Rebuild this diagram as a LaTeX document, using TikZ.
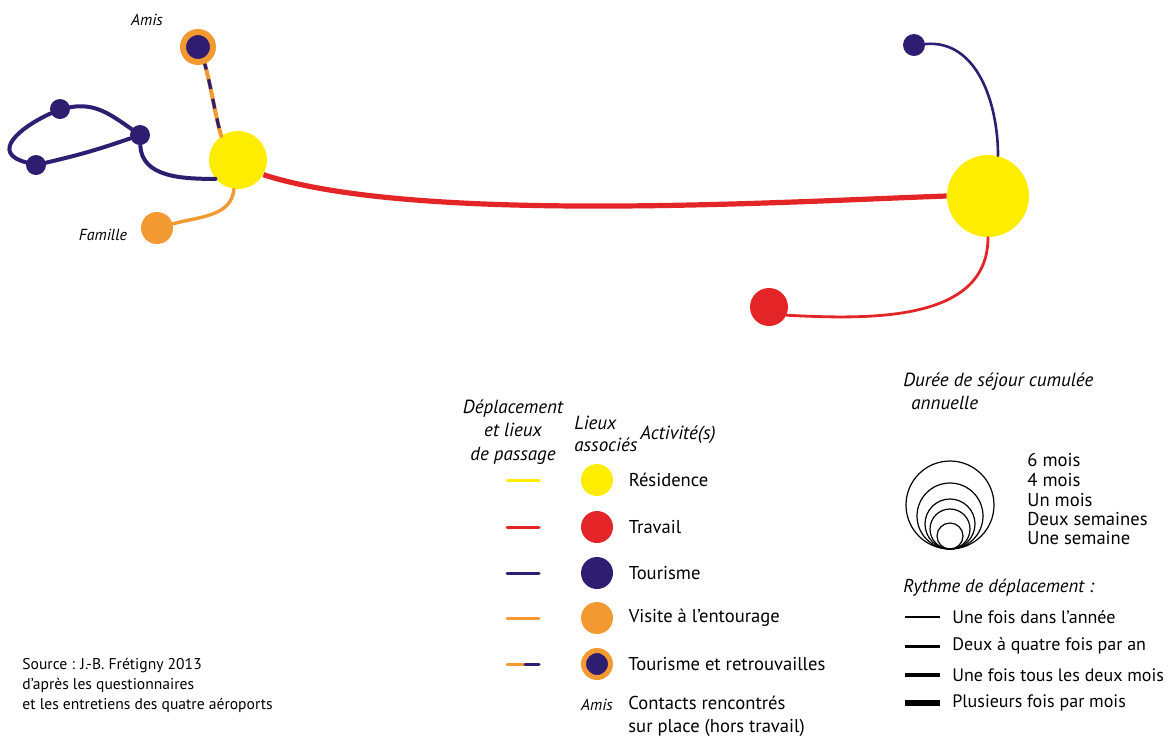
\documentclass[tikz,border=0pt]{standalone}
\usepackage{fontspec}
\setmainfont{PT Sans}
\usetikzlibrary{positioning}
\definecolor{jaune}{RGB}{255,237,0}
\definecolor{rouge}{RGB}{228,37,40}
\definecolor{violet}{RGB}{46,29,112}
\definecolor{orangec}{RGB}{243,153,50}
\tikzset{
  lieu/.style={circle,inner sep=0pt,minimum size=#1},
  trajet/.style={line width=#1,line cap=round},
  etiq/.style={font=\fontsize{8}{10}\selectfont\itshape,inner sep=0pt},
  legtxt/.style={font=\fontsize{9.3}{11.5}\selectfont,inner sep=0pt,anchor=west,align=left}
}

\begin{document}
\begin{tikzpicture}[x=0.5pt,y=0.5pt]
\useasboundingbox (0,0) rectangle (1172,-736);
% lieux de gauche
\node[lieu=29pt, fill=jaune] (resA) at (238,-160) {};
\node[lieu=15pt, fill=violet, draw=orangec, line width=3pt] (amis) at (198,-47) {};
\node[lieu=10pt, fill=violet] (t1) at (60,-109) {};
\node[lieu=10pt, fill=violet] (t2) at (140,-135) {};
\node[lieu=10pt, fill=violet] (t3) at (36,-165) {};
\node[lieu=16pt, fill=orangec] (fam) at (157,-228) {};
\node[etiq] (amislab) at (147,-20) {Amis};
\node[etiq] (famlab) at (103,-235) {Famille};
% trajets de gauche
\draw[trajet=2pt, violet] (t1) to[out=10,in=145] (t2);
\draw[trajet=2pt, violet] (t2) to[bend left=3] (t3);
\draw[trajet=2pt, violet] (t3) to[out=165,in=205,looseness=1.7] (t1);
\draw[trajet=2pt, violet] (t2) to[out=-88,in=180] (resA.220);
\draw[trajet=1.7pt, orangec] (resA.262) to[out=-95,in=15] (fam);
\draw[trajet=2pt, orangec] (amis.-68) to[out=-75,in=105] (resA.125);
\draw[line width=1.6pt, violet, dash pattern=on 5pt off 5pt, dash phase=2pt] (amis.-68) to[out=-75,in=105] (resA.125);
% lieux de droite
\node[lieu=41pt, fill=jaune] (resB) at (988,-196) {};
\node[lieu=11pt, fill=violet] (pB) at (914,-45) {};
\node[lieu=19pt, fill=rouge] (rB) at (769,-307) {};
\draw[trajet=1.3pt, violet] (pB) to[out=5,in=90] (resB.76);
\draw[trajet=1.4pt, rouge] (resB.-90) to[out=-90,in=-3] (rB.-25);
% trajet principal
\draw[line width=2.6pt, rouge] (resA.-30) to[out=-18,in=182,looseness=0.6] (resB.west);
% legende des lieux
\node[legtxt, font=\fontsize{9.5}{11.7}\selectfont\itshape, anchor=center, align=center] (hdep) at (513,-432) {Déplacement\\et lieux\\de passage};
\node[legtxt, font=\fontsize{9.5}{11}\selectfont\itshape] (hlieu) at (574,-434) {Lieux\\associés};
\node[legtxt, font=\fontsize{9.5}{11}\selectfont\itshape] (hact) at (640,-435) {Activité(s)};
\foreach \y/\c/\t [count=\i] in {480/jaune/Résidence,527/rouge/Travail,573/violet/Tourisme,618/orangec/Visite à l'entourage}{
  \draw[trajet=1.5pt, draw=\c] (507,-\y) -- (539,-\y);
  \node[lieu=16pt, fill=\c] (leg\i) at (597,-\y) {};
  \node[legtxt, right=7.5pt of leg\i] (txt\i) {\t};
}
\draw[trajet=1.5pt, orangec] (507,-664) -- (525,-664);
\draw[trajet=1.5pt, violet] (525,-664) -- (539,-664);
\node[lieu=13.5pt, fill=violet, draw=orangec, line width=2.5pt] (leg5) at (597,-664) {};
\node[legtxt, right=7.5pt of leg5] (txt5) {Tourisme et retrouvailles};
\node[etiq] (leg6) at (597,-705) {Amis};
\node[legtxt, anchor=north west] (txt6) at (628,-696) {Contacts rencontrés\\sur place (hors travail)};
% legende des durees
\node[legtxt, font=\fontsize{9.5}{11.5}\selectfont\itshape] (hdur) at (903,-391) {Durée de séjour cumulée\\\hspace*{4pt}annuelle};
\foreach \r in {44,33,25,20,13}{\draw[line width=0.6pt] (950,-549+\r) circle[radius=\r];}
\foreach \y/\t [count=\i] in {460/6 mois,480/4 mois,500/Un mois,519/Deux semaines,538/Une semaine}{
  \node[legtxt, font=\fontsize{9.3}{10}\selectfont] (dur\i) at (1027,-\y) {\t};
}
% rythme
\node[legtxt, font=\fontsize{9.3}{11.5}\selectfont\itshape] (hryt) at (903,-588) {Rythme de déplacement :};
\foreach \y/\w/\t [count=\i] in {617/0.7pt/Une fois dans l'année,646/1.5pt/Deux à quatre fois par an,675/2.2pt/Une fois tous les deux mois,703/3pt/Plusieurs fois par mois}{
  \draw[line width=\w] (905,-\y) -- (940,-\y);
  \node[legtxt, font=\fontsize{9}{11}\selectfont] (ryt\i) at (952,-\y) {\t};
}
% source
\node[legtxt, font=\fontsize{7.8}{10}\selectfont, anchor=north west] (src) at (22,-658) {Source : J.-B. Frétigny 2013\\d'après les questionnaires\\et les entretiens des quatre aéroports};
\end{tikzpicture}
\end{document}
